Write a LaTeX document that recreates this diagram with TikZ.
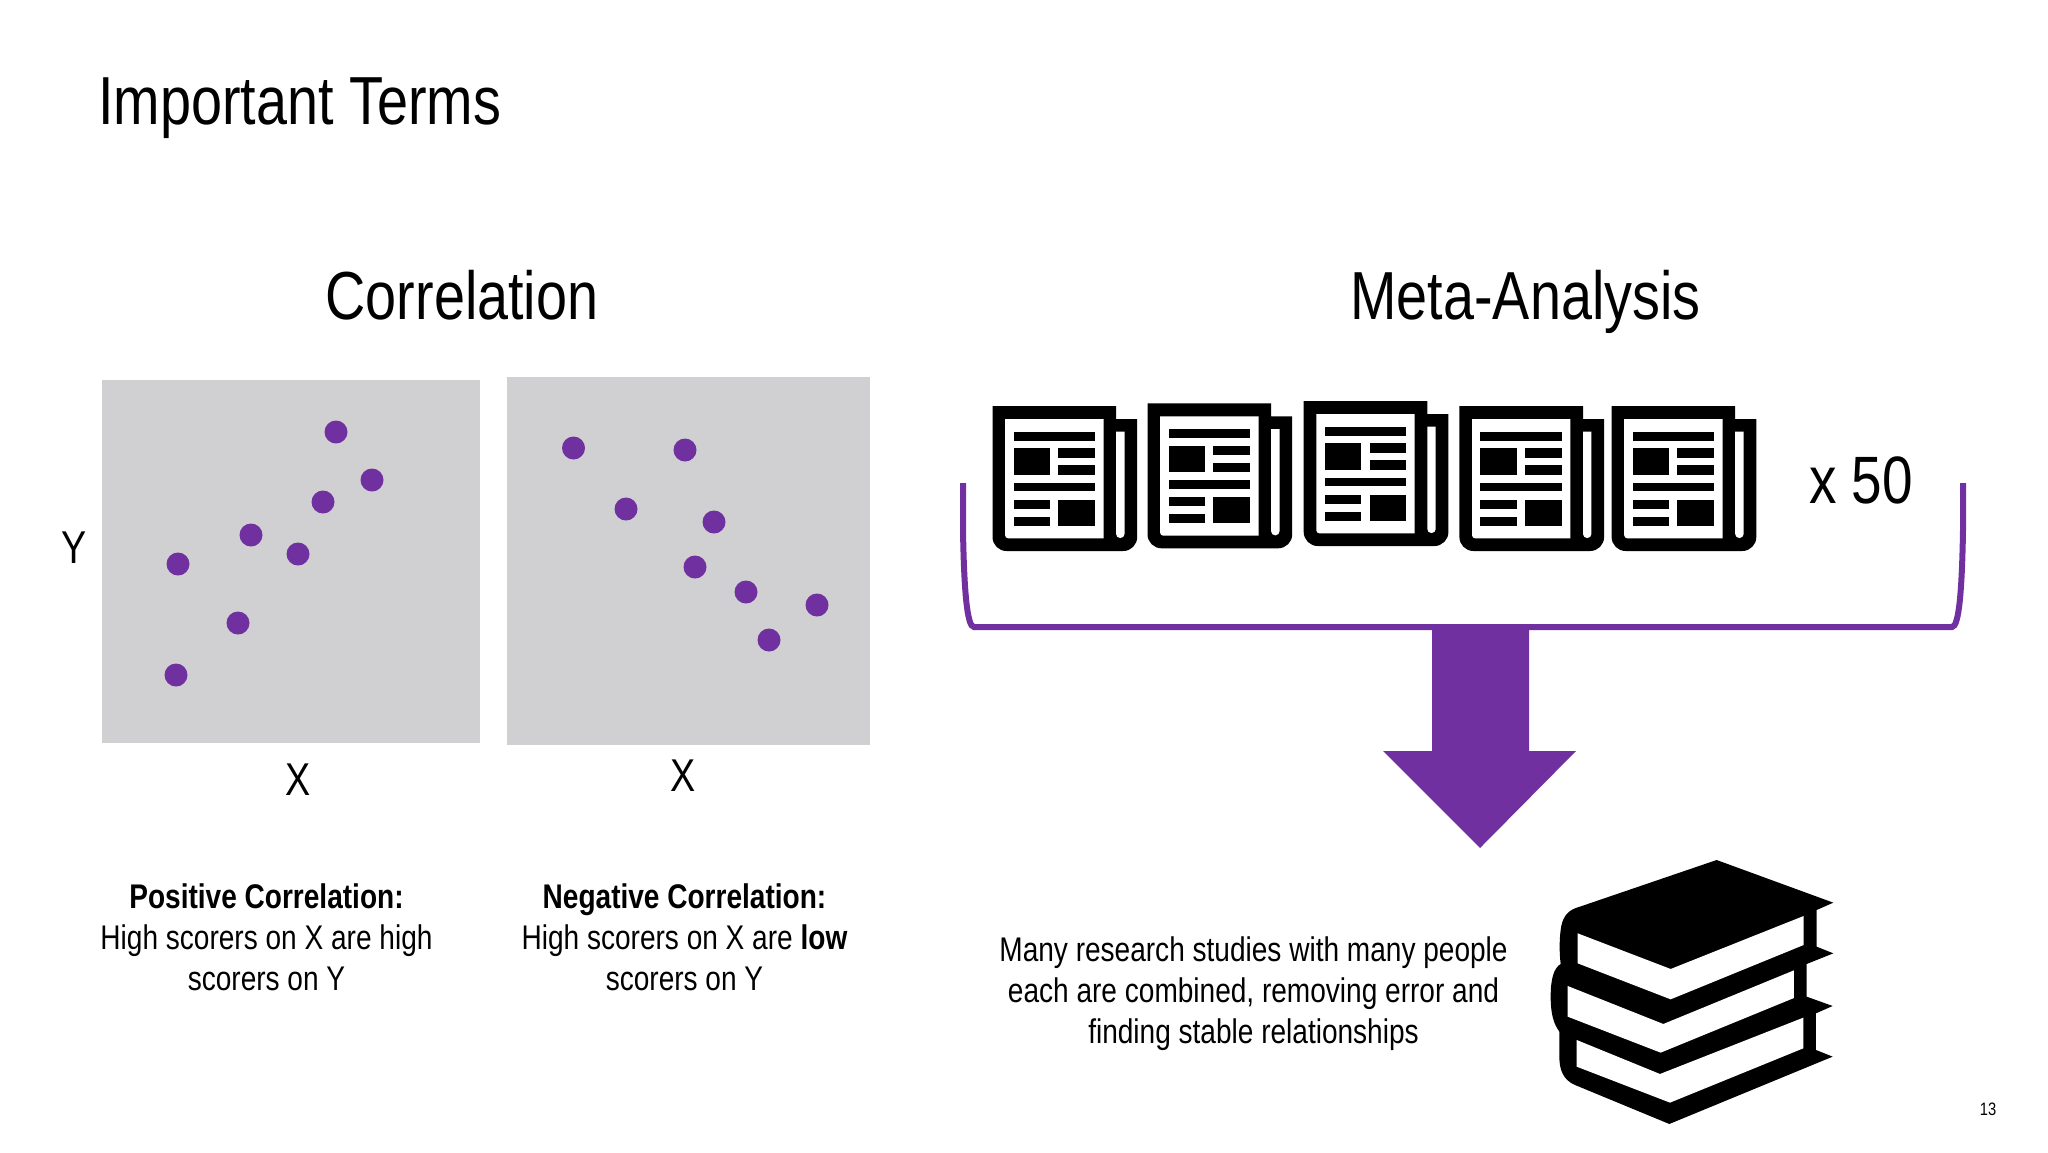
\documentclass[tikz,border=0pt]{standalone}
\usepackage{fontspec}
\setmainfont[FakeStretch=.82]{Liberation Sans}
\usepackage{tikz}
\definecolor{plotgray}{HTML}{D0CFD1}
\definecolor{meta}{HTML}{7030A0}
\newcommand{\newspaper}[2]{
	\begin{scope}[shift={(#1,#2)}]
		\fill[black] (0,0) -- (123.6,0) -- (123.6,13) -- (144.7,13) [rounded corners=14pt] -- (144.7,145) -- (0,145) [sharp corners] -- (0,100) -- cycle;
		\fill[white] (12.6,13) -- (111,13) -- (111,132.3) -- (16,132.3) [rounded corners=3pt] -- (12.6,132.3) [sharp corners] -- (12.6,100) -- cycle;
		\fill[white] (123.6,25.7) -- (132,25.7) [rounded corners=4pt] -- (132,132) -- (123.6,132) [sharp corners] -- (123.6,100) -- cycle;
		\fill[black] (21,25.7) rectangle (102.6,34.7);
		\fill[black] (21,42.3) rectangle (57.4,68.7);
		\fill[black] (65.8,42.3) rectangle (102.6,51.7);
		\fill[black] (65.8,59.3) rectangle (102.6,68.7);
		\fill[black] (21,76.7) rectangle (102.6,85.3);
		\fill[black] (21,94) rectangle (57.4,103);
		\fill[black] (21,111) rectangle (57.4,120);
		\fill[black] (65.8,94) rectangle (102.6,120);
	\end{scope}
}
\tikzset{
	every node/.style={inner sep=0pt, text=black},
	plotbox/.style={fill=plotgray, anchor=north west},
	dot/.style={circle, fill=meta, minimum size=23pt},
	heading/.style={font=\fontsize{68}{82}\selectfont, anchor=base},
	axis label/.style={font=\fontsize{46}{55}\selectfont},
	body text/.style={font=\fontsize{34.2}{41}\selectfont, align=center},
	bracket line/.style={draw=meta, line width=6pt}
}

\begin{document}
\begin{tikzpicture}[x=1pt,y=-1pt]
	\useasboundingbox (0,0) rectangle (2048,1152);
	\fill[white] (0,0) rectangle (2048,1152);

	\node[heading, anchor=base west] (title) at (98,124){Important Terms};
	\node[heading] (correlation) at (462,319){Correlation};
	\node[heading] (metaanalysis) at (1525.5,319){Meta-Analysis};

	\node[plotbox, minimum width=378pt, minimum height=363pt] (posplot) at (102,380){};
	\node[plotbox, minimum width=363pt, minimum height=368pt] (negplot) at (507,377){};

	\foreach \x/\y [count=\i] in {
		336/432,372/480,323/502,251/535,298/554,178/564,238/623,176/675%
	}{
		\node[dot] (pos\i) at (\x,\y){};
	}
	\foreach \x/\y [count=\i] in {
		573.5/448,685/450,626/509,714/522,695/567,746/592,817/605,769/640%
	}{
		\node[dot] (neg\i) at (\x,\y){};
	}

	\node[axis label] (ylabel) at (74,548){Y};
	\node[axis label] (xleft) at (298.5,780){X};
	\node[axis label] (xright) at (683.5,776){X};

	\node[body text] (postext) at (266.5,937.5){\textbf{Positive Correlation:}\\High scorers on X are high\\scorers on Y};
	\node[body text] (negtext) at (684.5,937.5){\textbf{Negative Correlation:}\\High scorers on X are \textbf{low}\\scorers on Y};
	\node[body text] (metatext) at (1253.5,994){Many research studies with many people\\each are combined, removing error and\\finding stable relationships};

	\foreach \x/\y in {
		992.5/406,1147.5/403.3,1303.7/401,1459.4/406,1611.6/406%
	}{
		\newspaper{\x}{\y}
	}
	\node[font=\fontsize{67}{80}\selectfont, anchor=base] (times) at (1861,503){x 50};

	\draw[bracket line] (963,483) -- (963,530) .. controls (964,590) and (967,627) .. (974,627) -- (1952,627) .. controls (1959,627) and (1962,590) .. (1963,530) -- (1963,483);
	\fill[meta] (1432,627) -- (1529,627) -- (1529,751) -- (1576,751) -- (1480,848) -- (1383,751) -- (1432,751) -- cycle;

	\begin{scope}[shift={(1520,840)},x=.3333pt,y=-.3333pt]
		\fill[black] (590,60) -- (940,188) -- (890,210) -- (890,320) -- (940,340) -- (860,372) -- (860,470) -- (938,498) -- (888,520) -- (888,630) -- (938,650) -- (448,852) -- (165,735) .. controls (130,720) and (118,690) .. (118,650) -- (118,575) .. controls (100,550) and (92,520) .. (92,470) .. controls (92,420) and (100,385) .. (122,372) .. controls (118,340) and (118,300) .. (122,270) .. controls (126,235) and (140,215) .. (165,205) -- cycle;
		\fill[white] (173,280) -- (452,387) -- (851,228) -- (851,315) -- (452,478) -- (173,370) -- cycle;
		\fill[white] (143,438) -- (430,552) -- (822,391) -- (822,474) -- (422,638) -- (143,530) -- cycle;
		\fill[white] (170,600) -- (420,702) -- (850,533) -- (850,625) -- (450,788) -- (170,680) -- cycle;
	\end{scope}

	\node[font=\fontsize{18}{22}\selectfont] (pagenum) at (1988,1109){13};
\end{tikzpicture}
\end{document}
